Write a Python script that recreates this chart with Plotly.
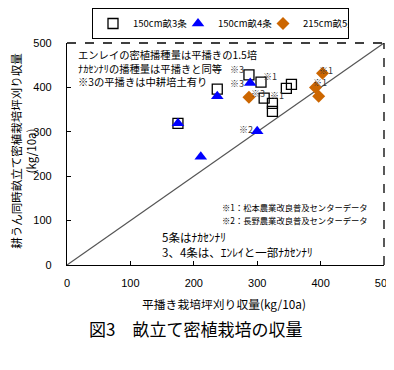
import plotly.graph_objects as go

# 150cm畝3条 (open squares)
sq_x = [287, 306, 346, 354, 311, 324, 324, 237, 175]
sq_y = [428, 412, 398, 407, 376, 364, 346, 396, 319]

# 150cm畝4条 (triangles)
tr_x = [289, 237, 175, 211, 300]
tr_y = [410, 380, 319, 244, 301]

# 215cm畝5条 (diamonds)
di_x = [287, 403, 392, 397]
di_y = [378, 432, 400, 380]

# point notes: (series, point index, text)
notes = [("sq", 0, "※3"), ("sq", 1, "※1"), ("sq", 5, "※1"),
         ("tr", 0, "※3"), ("tr", 4, "※2"),
         ("di", 0, "※3"), ("di", 1, "※1"), ("di", 2, "※1")]
note_shift = [(-12, 5), (9, 6), (5, 8), (-13, -1), (-11, 2), (9, 4), (3, 3), (4, 5)]

line_xy = [0, 500]
ticks = [0, 100, 200, 300, 400, 500]

series = {"sq": (sq_x, sq_y), "tr": (tr_x, tr_y), "di": (di_x, di_y)}

JP = "Noto Sans CJK JP"

fig = go.Figure()
fig.add_trace(go.Scatter(x=line_xy, y=line_xy, mode="lines",
                         line=dict(color="#555555", width=1.2), showlegend=False, hoverinfo="skip"))
fig.add_trace(go.Scatter(x=sq_x, y=sq_y, mode="markers", name="150cm畝3条",
                         marker=dict(symbol="square-open", size=10, color="black", line=dict(width=1.3))))
fig.add_trace(go.Scatter(x=tr_x, y=tr_y, mode="markers", name="150cm畝4条",
                         marker=dict(symbol="triangle-up", size=11, color="#0000FF")))
fig.add_trace(go.Scatter(x=di_x, y=di_y, mode="markers", name="215cm畝5条",
                         marker=dict(symbol="diamond", size=10, color="#CC6600")))

ann = []
for (key, i, t), (dx, dy) in zip(notes, note_shift):
    xs, ys = series[key]
    ann.append(dict(x=xs[i], y=ys[i], xref="x", yref="y", text=t, showarrow=False,
                    xshift=dx, yshift=dy, xanchor="center", yanchor="middle",
                    font=dict(family=JP, size=9, color="#333333")))
for yy, t in zip([0.946, 0.887, 0.826],
                 ["エンレイの密植播種量は平播きの1.5培",
                  "ﾅｶｾﾝﾅﾘの播種量は平播きと同等",
                  "※3の平播きは中耕培土有り"]):
    ann.append(dict(x=0.028, y=yy, xref="paper", yref="paper", text=t,
                    showarrow=False, xanchor="left", yanchor="middle",
                    font=dict(family=JP, size=10.3, color="black")))
for yy, t in zip([0.261, 0.203],
                 ["※1：松本農業改良普及センターデータ",
                  "※2：長野農業改良普及センターデータ"]):
    ann.append(dict(x=0.956, y=yy, xref="paper", yref="paper", text=t,
                    showarrow=False, xanchor="right", yanchor="middle",
                    font=dict(family=JP, size=8.3, color="black")))
for yy, t in zip([0.126, 0.059], ["5条はﾅｶｾﾝﾅﾘ", "3、4条は、ｴﾝﾚｲと一部ﾅｶｾﾝﾅﾘ"]):
    ann.append(dict(x=0.293, y=yy, xref="paper", yref="paper", text=t,
                    showarrow=False, xanchor="left", yanchor="middle",
                    font=dict(family=JP, size=11.5, color="black")))
ann.append(dict(x=-0.136, y=0.514, xref="paper", yref="paper",
                xanchor="center", yanchor="middle",
                text="耕うん同時畝立て密植栽培坪刈り収量<br>(kg/10a)", textangle=-90,
                showarrow=False, font=dict(family=JP, size=11.5, color="black")))
ann.append(dict(x=0.494, y=-0.175, xref="paper", yref="paper",
                xanchor="center", yanchor="middle",
                text="平播き栽培坪刈り収量(kg/10a)", showarrow=False,
                font=dict(family=JP, size=11.8, color="black")))
ann.append(dict(x=0.405, y=-0.288, xref="paper", yref="paper",
                xanchor="center", yanchor="middle",
                text="図3　畝立て密植栽培の収量", showarrow=False,
                font=dict(family=JP, size=17, color="black")))

axis = dict(range=[0, 500], tickvals=ticks, ticks="inside", ticklen=4, tickcolor="black",
            showline=True, linecolor="black", linewidth=1.3, showgrid=False, zeroline=False,
            tickfont=dict(family="Liberation Sans", size=11, color="black"), fixedrange=True,
            automargin=False, ticklabeloverflow="allow")

# page body has an 8px margin; figure is sized so the page fits the 394x370 window
fig.update_layout(
    width=386, height=346,
    margin=dict(l=59, r=10, t=35, b=89, autoexpand=False),
    plot_bgcolor="white", paper_bgcolor="white",
    xaxis=dict(axis, ticklabelstandoff=8),
    yaxis=dict(axis, ticklabelstandoff=12),
    annotations=ann,
    legend=dict(orientation="h", xref="container", yref="container",
                x=84 / 386, y=1.0, xanchor="left", yanchor="top",
                bordercolor="black", borderwidth=1, bgcolor="white",
                font=dict(family=JP, size=9.5, color="black"),
                itemwidth=30, tracegroupgap=0, entrywidth=40, entrywidthmode="pixels"),
    shapes=[
        dict(type="line", xref="paper", yref="paper", x0=0, x1=1, y0=1, y1=1,
             line=dict(color="black", width=1.3, dash="dash")),
        dict(type="line", xref="paper", yref="paper", x0=1, x1=1, y0=0, y1=1,
             line=dict(color="black", width=1.3, dash="dash")),
    ],
)

fig.write_html("out.html")
